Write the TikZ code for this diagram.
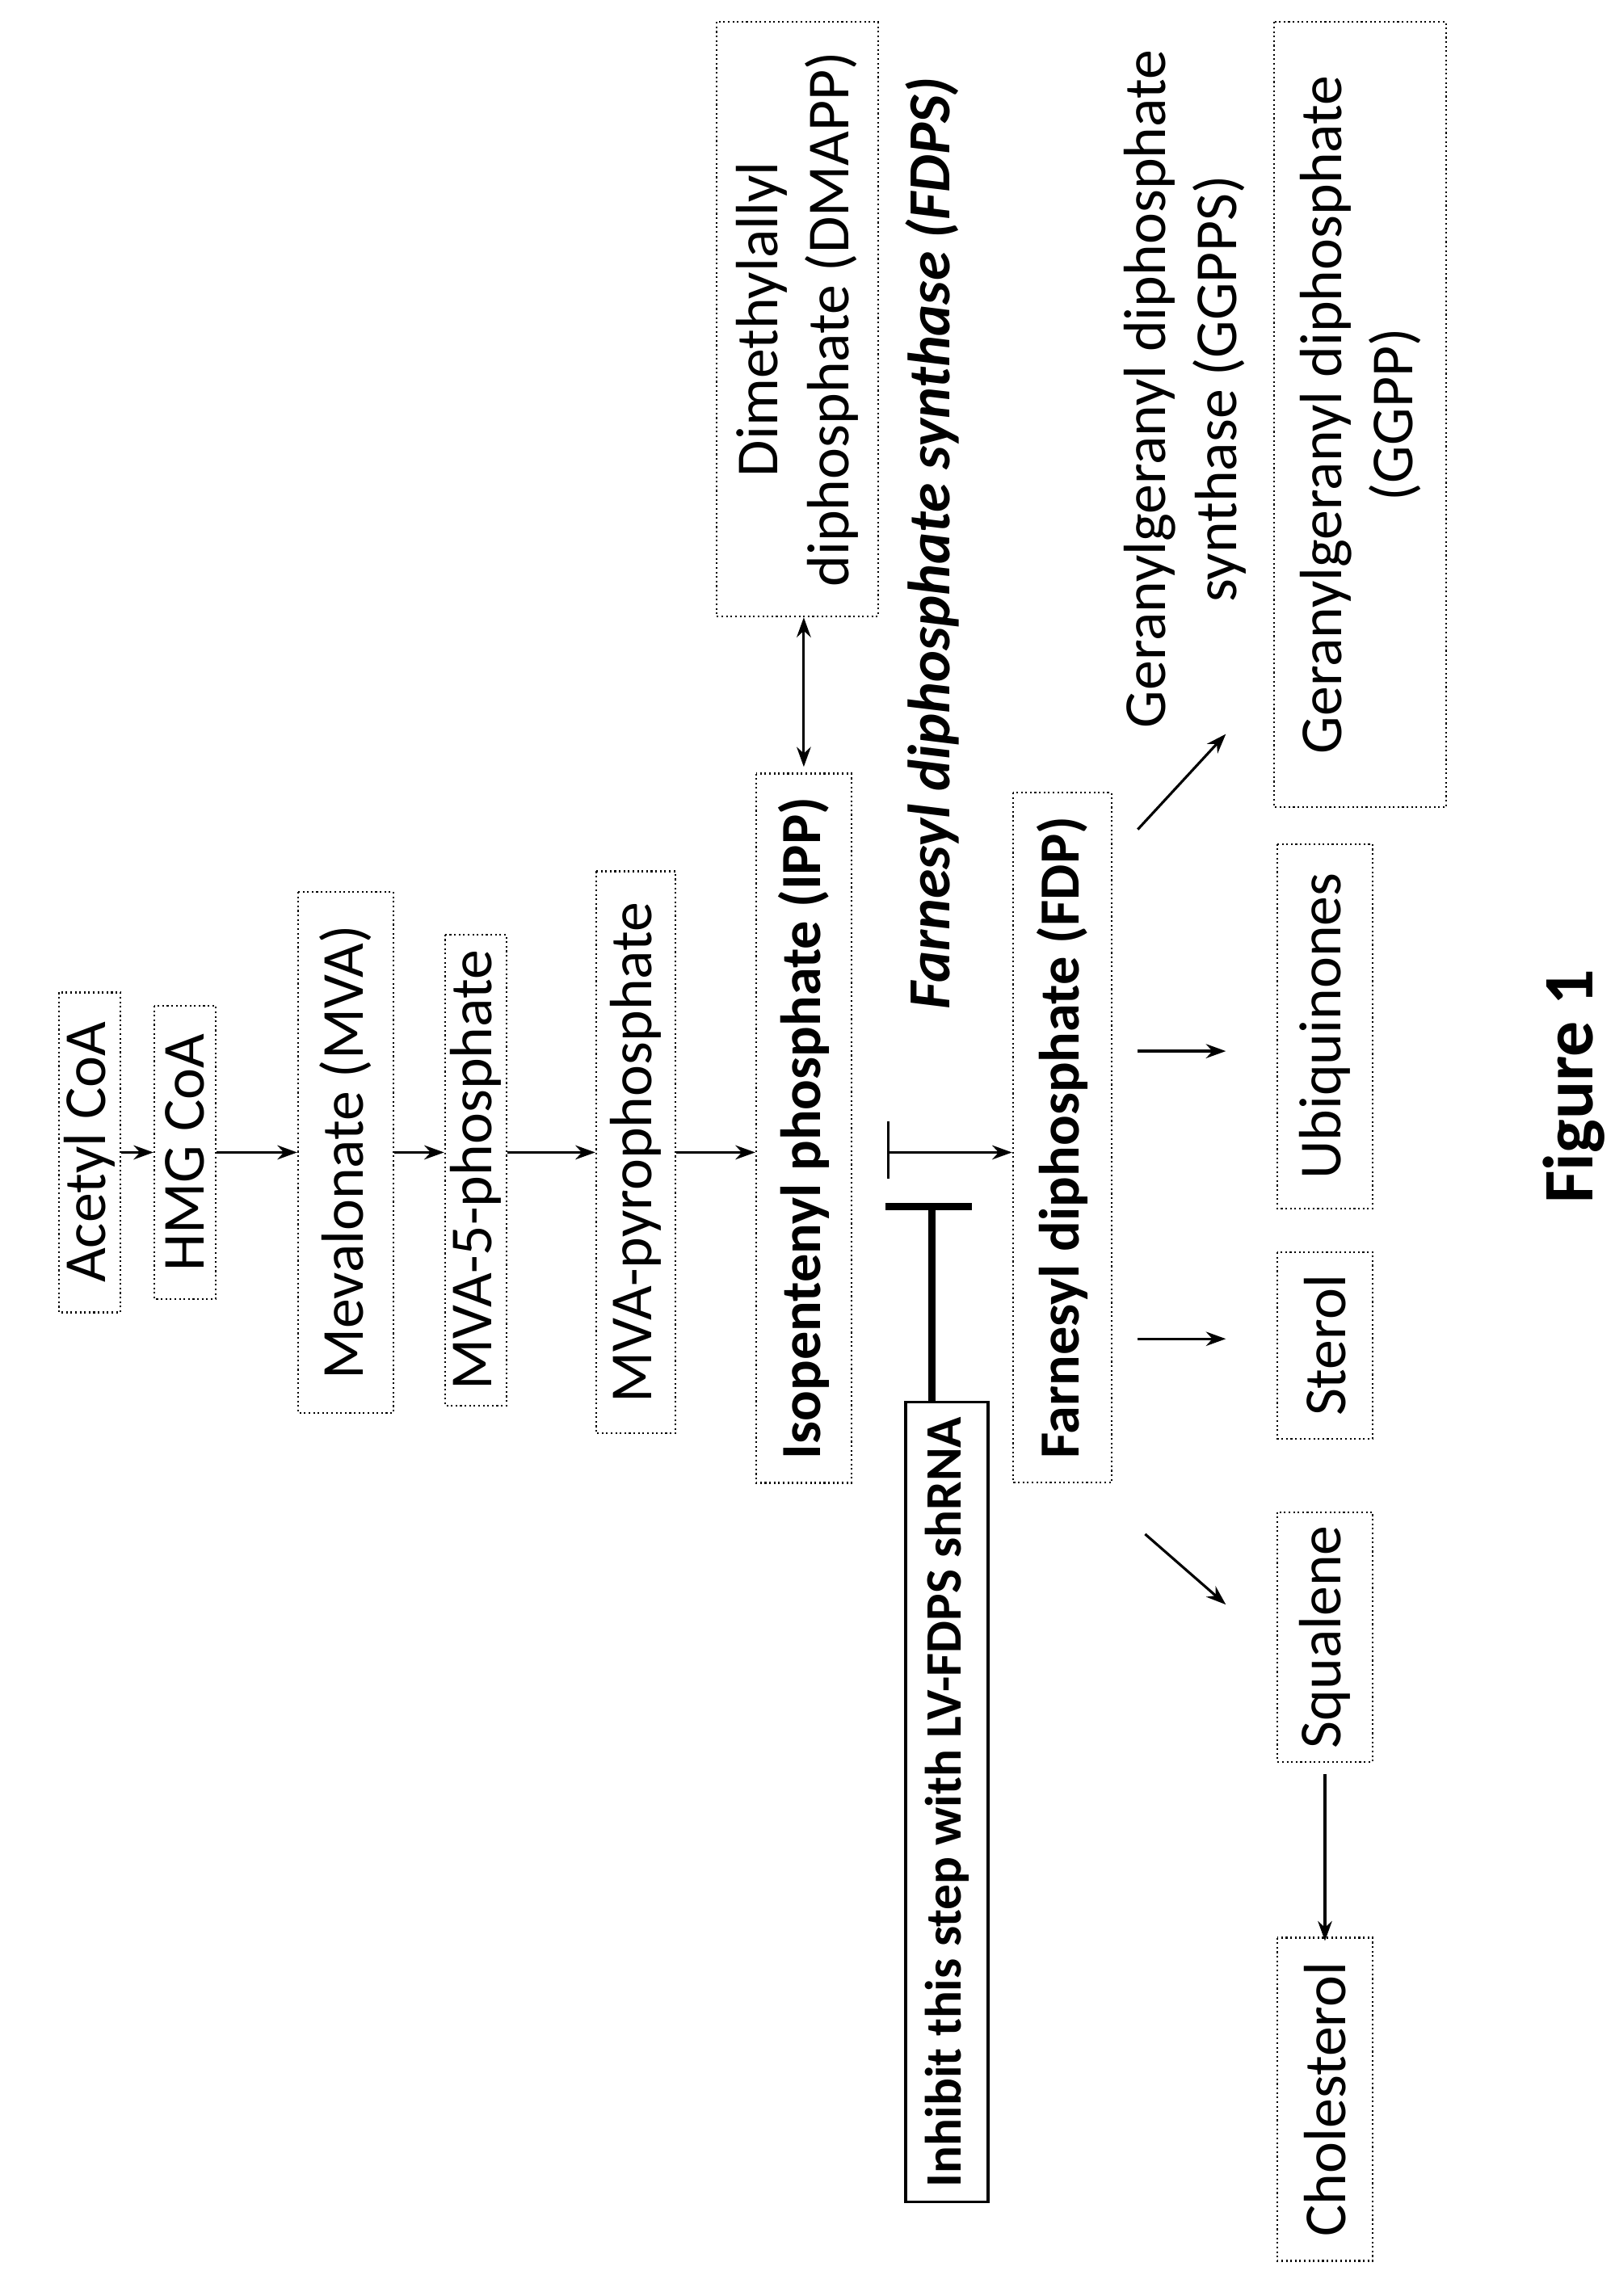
\documentclass[tikz,border=0pt]{standalone}
\usepackage{fontspec}
\setmainfont{Carlito}
\usetikzlibrary{arrows.meta}
\begin{document}
\begin{tikzpicture}[x=0.01817cm,y=-0.01817cm,
  box/.style={draw,densely dotted,line width=0.6pt,rotate=90,inner sep=0pt,align=center,font=\fontsize{21}{25}\selectfont},
  bbox/.style={box,font=\fontsize{20}{24}\selectfont\bfseries},
  arr/.style={-{Stealth[length=7pt,width=5pt]},line width=0.9pt},
  lab/.style={rotate=90,align=center,font=\fontsize{21}{25}\selectfont}]
\useasboundingbox (0,0) rectangle (1100,1564);
\node[box,minimum width=3.96cm,minimum height=0.76cm] (ac) at (61,785) {Acetyl CoA};
\node[box,minimum width=3.63cm,minimum height=0.76cm] (hmg) at (126,785) {HMG CoA};
\node[box,minimum width=6.45cm,minimum height=1.18cm] (mva) at (235.5,785) {Mevalonate (MVA)};
\node[box,minimum width=5.83cm,minimum height=0.76cm] (m5) at (324,797) {MVA-5-phosphate};
\node[box,minimum width=6.96cm,minimum height=0.98cm] (mpp) at (433,785) {MVA-pyrophosphate};
\node[bbox,minimum width=8.78cm,minimum height=1.18cm] (ipp) at (547.5,768.5) {Isopentenyl phosphate (IPP)};
\node[box,minimum width=7.36cm,minimum height=2.0cm] (dm) at (543,217.5) {Dimethylallyl\\diphosphate (DMAPP)};
\node[bbox,minimum width=8.54cm,minimum height=1.22cm] (fdp) at (723.5,775) {Farnesyl diphosphate (FDP)};
\node[box,minimum width=4.51cm,minimum height=1.18cm] (ubi) at (902.5,699) {Ubiquinones};
\node[box,minimum width=2.31cm,minimum height=1.18cm] (ste) at (902.5,916.5) {Sterol};
\node[box,minimum width=3.09cm,minimum height=1.18cm] (squ) at (902.5,1115) {Squalene};
\node[box,minimum width=4.0cm,minimum height=1.18cm] (cho) at (902.5,1430) {Cholesterol};
\node[box,minimum width=9.72cm,minimum height=2.13cm] (gg) at (926.5,282.5) {Geranylgeranyl diphosphate\\(GGPP)};
\node[draw,solid,line width=1pt,rotate=90,inner sep=0pt,minimum width=9.9cm,minimum height=1.02cm,font=\fontsize{18}{22}\selectfont\bfseries] (inh) at (645,1227.5) {Inhibit this step with LV-FDPS shRNA};
\node[lab,font=\fontsize{21}{25}\selectfont\bfseries\itshape] (fdps) at (635,370) {Farnesyl diphosphate synthase (FDPS)};
\node[lab] (ggps) at (807,265) {Geranylgeranyl diphosphate\\synthase (GGPPS)};
\node[lab,font=\fontsize{25}{30}\selectfont\bfseries] (fig) at (1072,740) {Figure 1};
% chain
\draw[arr] (ac.south) -- (hmg.north |- ac.south);
\draw[arr] (hmg.south) -- (mva.north |- hmg.south);
\draw[arr] (mva.south) -- (m5.north |- mva.south);
\draw[arr] (m5.south |- mpp.north) -- (mpp.north);
\draw[arr] (mpp.south) -- (ipp.north |- mpp.south);
\draw[{Stealth[length=7pt,width=5pt]}-{Stealth[length=7pt,width=5pt]},line width=0.9pt] (ipp.east) ++(0,-4) -- (ipp.east |- dm.west);
% IPP -> FDP
\coordinate (s1) at (605,764); \coordinate (s2) at (605,803); \coordinate (s3) at (605,785);
\draw[line width=0.9pt] (s1) -- (s2);
\draw[arr] (s3) -- (fdp.north |- s3);
% inhibition
\coordinate (tb1) at (603,822); \coordinate (tb2) at (662,822);
\draw[line width=2.6pt] (inh.east -| 635,0) -- (635,822);
\draw[line width=2.6pt] (tb1) -- (tb2);
% FDP products
\coordinate (f1) at (775,565); \coordinate (f2) at (775,716); \coordinate (f3) at (775,912); \coordinate (f4) at (780,1045);
\draw[arr] (f1) -- (835,500);
\draw[arr] (f2) -- (835,716);
\draw[arr] (f3) -- (835,912);
\draw[arr] (f4) -- (835,1093);
\draw[arr] (squ.west) ++(0,8) -- ([yshift=-0.05cm]cho.east);
\end{tikzpicture}
\end{document}
